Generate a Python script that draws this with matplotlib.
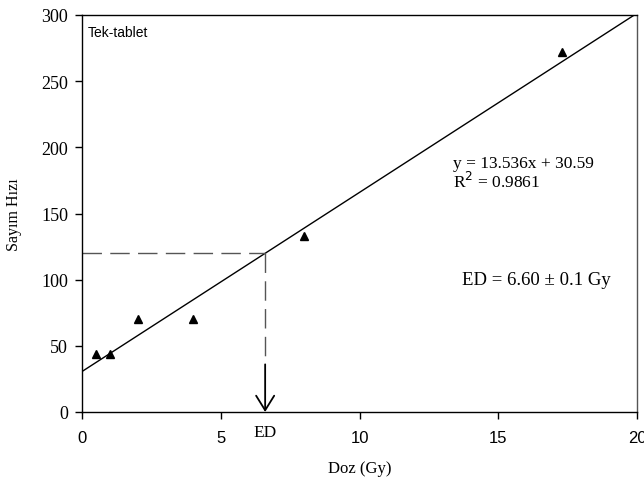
import matplotlib
matplotlib.use("Agg")
import matplotlib.pyplot as plt
import numpy as np

dose = [0.5, 1.0, 2.0, 4.0, 8.0, 17.3]
count = [44, 44, 70, 70, 133, 272]
slope, intercept = 13.536, 30.59
ed_value = 6.60
ed_level = 120
arrow_top = 36
x_ticks = [0, 5, 10, 15, 20]
y_ticks = [0, 50, 100, 150, 200, 250, 300]

serif = "Liberation Serif"
sans = "Liberation Sans"

fig = plt.figure(figsize=(6.44, 4.81), dpi=100)
ax = fig.add_axes([82/644, 1-413/481, (637-82)/644, (413-16)/481])

xs = np.array([0, 20])
ax.plot(xs, slope*xs + intercept, color="black", lw=1.0)
ax.plot(dose, count, linestyle="none", marker="^", color="black", markersize=5.5)

ax.plot([0, ed_value], [ed_level, ed_level], color="#555555", lw=1.0, dashes=(14, 6))
ax.plot([ed_value, ed_value], [ed_level, arrow_top], color="#555555", lw=1.0, dashes=(14, 6))
ax.annotate("", xy=(ed_value, 0), xytext=(ed_value, arrow_top),
            arrowprops=dict(arrowstyle="->,head_length=1.05,head_width=0.65", color="black", lw=1.3,
                            shrinkA=0, shrinkB=0))
ax.text(ed_value, -9, "ED", ha="center", va="top", fontsize=12.5, family=serif)

ax.set_xlim(0, 20)
ax.set_ylim(0, 300)
ax.set_xticks(x_ticks)
ax.set_xticklabels([str(v) for v in x_ticks], fontfamily=sans, fontsize=12)
ax.set_yticks(y_ticks)
ax.set_yticklabels([str(v) for v in y_ticks], fontfamily=serif, fontsize=13)
ax.tick_params(direction="out", length=5, width=1)
ax.tick_params(axis="x", pad=8)
ax.tick_params(axis="y", pad=5)

ax.set_xlabel("Doz (Gy)", fontsize=12, family=serif, labelpad=11)
ax.set_ylabel("Sayım Hızı", fontsize=11.5, family=serif, labelpad=14)

ax.text(0.011, 0.975, "Tek-tablet", transform=ax.transAxes, ha="left", va="top",
        fontsize=10, family=sans)
ax.text(13.37, 194, "y = 13.536x + 30.59\nR$^2$ = 0.9861", fontsize=12.5, family=serif,
        ha="left", va="top", linespacing=1.0)
ax.text(13.7, 100, "ED = 6.60 ± 0.1 Gy", fontsize=13.5, family=serif, ha="left", va="center")

for s in ax.spines.values():
    s.set_linewidth(1.0)
ax.spines["right"].set_color("#555555")

fig.savefig("out.png", dpi=100)
